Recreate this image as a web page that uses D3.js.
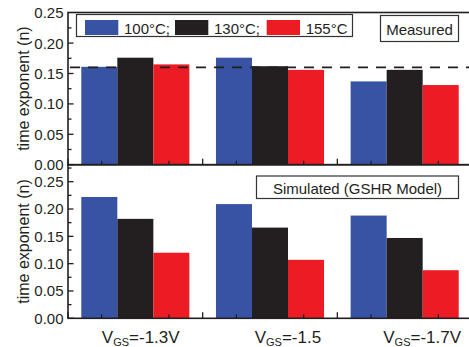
<!DOCTYPE html>
<html><head><meta charset="utf-8">
<script src="https://cdn.jsdelivr.net/npm/d3@7"></script>
<style>body{margin:0;background:#fff}svg{display:block;font-family:Arial,"Liberation Sans",sans-serif}</style>
</head><body><svg id="c" width="469" height="347"></svg>
<script>
const categories = ["-1.3V", "-1.5", "-1.7V"];
const seriesNames = ["100°C;", "130°C;", "155°C"];
const colors = ["#3953a4", "#231f20", "#ed1c24"];
const measured100 = [0.161, 0.176, 0.137];
const measured130 = [0.176, 0.162, 0.156];
const measured155 = [0.165, 0.156, 0.131];
const simulated100 = [0.222, 0.209, 0.188];
const simulated130 = [0.182, 0.166, 0.147];
const simulated155 = [0.120, 0.107, 0.088];
const dashedRef = 0.16;
const yTicksTop = [0, 0.05, 0.10, 0.15, 0.20, 0.25];
const yTicksBottom = [0, 0.05, 0.10, 0.15, 0.20, 0.25];

const svg = d3.select("#c");
const ink = "#231f20";
const x = d3.scaleLinear().domain([0, 3]).range([68, 472]);
const barW = 0.2675;

const panels = [
  {y: d3.scaleLinear().domain([0, 0.25]).range([164.7, 12.7]), top: 12.5, bottom: 164.7,
   data: [measured100, measured130, measured155], ticks: yTicksTop, max: 0.25},
  {y: d3.scaleLinear().domain([0, 0.28]).range([318.3, 165.3]), top: 164.7, bottom: 318.3,
   data: [simulated100, simulated130, simulated155], ticks: yTicksBottom, max: 0.28}
];

panels.forEach((p, pi) => {
  const g = svg.append("g");
  p.data.forEach((vals, si) => {
    g.selectAll(null).data(vals).enter().append("rect")
      .attr("x", (d, i) => x(i + 0.5 + (si - 1.5) * barW))
      .attr("width", x(barW) - x(0))
      .attr("y", d => p.y(d))
      .attr("height", d => p.y(0) - p.y(d))
      .attr("fill", colors[si]);
  });
  const minor = d3.range(0, p.max, 0.025);
  g.selectAll(null).data(minor).enter().append("line")
    .attr("x1", x(0)).attr("x2", (d, i) => x(0) + (i % 2 === 0 ? 5.5 : 3.5))
    .attr("y1", d => p.y(d)).attr("y2", d => p.y(d))
    .attr("stroke", ink).attr("stroke-width", 1.3);
  g.selectAll(null).data(p.ticks).enter().append("text")
    .attr("x", 63.5).attr("y", d => p.y(d)).attr("dy", "0.36em")
    .attr("text-anchor", "end").attr("font-size", 15).attr("fill", ink)
    .text(d => d3.format(".2f")(d));
  const xt = d3.range(0, 3.001, 0.25);
  g.selectAll(null).data(xt).enter().append("line")
    .attr("x1", d => x(d)).attr("x2", d => x(d))
    .attr("y1", p.bottom).attr("y2", (d, i) => p.bottom - (i % 4 === 0 ? 6 : 4))
    .attr("stroke", ink).attr("stroke-width", 1.3);
  g.append("rect").attr("x", x(0)).attr("y", p.top)
    .attr("width", x(3) - x(0)).attr("height", p.bottom - p.top)
    .attr("fill", "none").attr("stroke", ink).attr("stroke-width", 1.6);
  g.append("text").attr("transform", `translate(28.5,${(p.top + p.bottom) / 2}) rotate(-90)`)
    .attr("text-anchor", "middle").attr("font-size", 16).attr("fill", ink)
    .text("time exponent (n)");
});

const yT = panels[0].y;
svg.append("line").attr("x1", x(0)).attr("x2", x(3))
  .attr("y1", yT(dashedRef)).attr("y2", yT(dashedRef))
  .attr("stroke", ink).attr("stroke-width", 1.6).attr("stroke-dasharray", "10,8")
  .attr("stroke-dashoffset", -2);

const lg = svg.append("g");
lg.append("rect").attr("x", 76.5).attr("y", 14.5).attr("width", 276).attr("height", 22)
  .attr("fill", "#fff").attr("stroke", "#333").attr("stroke-width", 1.2);
const legX = [85, 175, 266.7];
seriesNames.forEach((n, i) => {
  lg.append("rect").attr("x", legX[i]).attr("y", 20).attr("width", 33.3).attr("height", 15).attr("fill", colors[i]);
  lg.append("text").attr("x", legX[i] + 39).attr("y", 34.3).attr("font-size", 15).attr("fill", ink).text(n);
});

function boxLabel(x0, y0, w, h, txt, by) {
  svg.append("rect").attr("x", x0).attr("y", y0).attr("width", w).attr("height", h)
    .attr("fill", "#fff").attr("stroke", "#333").attr("stroke-width", 1.2);
  svg.append("text").attr("x", x0 + w / 2).attr("y", by).attr("text-anchor", "middle")
    .attr("font-size", 15).attr("fill", ink).text(txt);
}
boxLabel(380.5, 15.5, 78, 26, "Measured", 34.5);
boxLabel(256.5, 176, 202, 22.5, "Simulated (GSHR Model)", 193.5);

const labelOffsets = [-33.5, -15.3, -21.4];
categories.forEach((c, i) => {
  const t = svg.append("text").attr("x", x(i + 0.5) + labelOffsets[i]).attr("y", 342.5)
    .attr("font-size", 17).attr("fill", ink);
  t.append("tspan").text("V");
  t.append("tspan").attr("font-size", 11).attr("dy", 3).text("GS");
  t.append("tspan").attr("dy", -3).text("=" + c);
});
</script></body></html>
